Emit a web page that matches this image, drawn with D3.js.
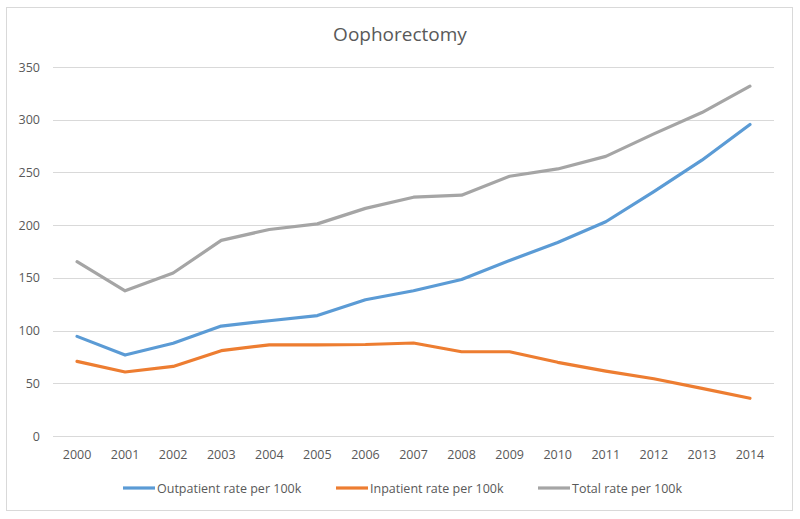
<!DOCTYPE html>
<html><head><meta charset="utf-8">
<script src="https://cdn.jsdelivr.net/npm/d3@7"></script>
<style>body{margin:0;background:#fff}svg{display:block}text{font-family:"Open Sans",sans-serif;fill:#595959}</style>
</head><body><svg id="c" width="800" height="519"></svg>
<script>
const years = ["2000","2001","2002","2003","2004","2005","2006","2007","2008","2009","2010","2011","2012","2013","2014"];
const outpatient = [94.5,76.8,88,104.3,109.3,114.2,129.2,137.8,148.5,166.5,183.5,203.2,231.8,261.6,295.5];
const inpatient = [70.8,60.7,66,80.9,86.5,86.5,86.8,88.2,79.9,79.9,69.9,61.6,54.3,45.2,35.8];
const total = [165.3,137.7,154.6,185.5,195.9,201.2,215.9,226.5,228.4,246.4,253.3,265.2,286.6,306.8,331.8];
const yTicks = [0,50,100,150,200,250,300,350];
const seriesNames = ["Outpatient rate per 100k","Inpatient rate per 100k","Total rate per 100k"];
const colors = ["#5b9bd5","#ed7d31","#a5a5a5"];
const title = "Oophorectomy";

const svg = d3.select("#c");
svg.append("rect").attr("x",6.5).attr("y",7.5).attr("width",786).attr("height",503)
  .attr("fill","#fff").attr("stroke","#d9d9d9").attr("stroke-width",1);

const pL=53,pR=774,pT=67,pB=436;
const x = d3.scaleBand().domain(years).range([pL,pR]);
const y = d3.scaleLinear().domain([0,350]).range([pB,pT]);

svg.append("text").attr("x",400).attr("y",41).attr("text-anchor","middle")
  .style("font-size","19px").text(title);

// gridlines
svg.append("g").selectAll("line").data(yTicks).join("line")
  .attr("x1",pL).attr("x2",pR).attr("y1",d=>Math.round(y(d))+0.5).attr("y2",d=>Math.round(y(d))+0.5)
  .attr("stroke","#d9d9d9").attr("stroke-width",1);

const yAxis = d3.axisLeft(y).tickValues(yTicks).tickSize(0).tickPadding(13);
const gy = svg.append("g").attr("transform",`translate(${pL},0)`).call(yAxis);
gy.select(".domain").remove();
gy.selectAll("text").style("font-size","12.5px").style("font-family","'Open Sans',sans-serif").attr("fill","#595959");

const xAxis = d3.axisBottom(x).tickSize(0).tickPadding(14);
const gx = svg.append("g").attr("transform",`translate(0,${pB})`).call(xAxis);
gx.select(".domain").remove();
gx.selectAll("text").style("font-size","12.5px").style("font-family","'Open Sans',sans-serif").attr("fill","#595959");

const series = [outpatient,inpatient,total];
const line = d3.line().x((d,i)=>x(years[i])+x.bandwidth()/2).y(d=>y(d));
series.forEach((s,k)=>{
  svg.append("path").datum(s).attr("d",line).attr("fill","none")
    .attr("stroke",colors[k]).attr("stroke-width",3.2).attr("stroke-linejoin","round").attr("stroke-linecap","round");
});

// legend
const legX = [123,336,538];
const lg = svg.append("g");
seriesNames.forEach((n,k)=>{
  lg.append("line").attr("x1",legX[k]).attr("x2",legX[k]+32).attr("y1",488).attr("y2",488)
    .attr("stroke",colors[k]).attr("stroke-width",3.2);
  lg.append("text").attr("x",legX[k]+34).attr("y",492.5).style("font-size","12.5px").text(n);
});
</script></body></html>
